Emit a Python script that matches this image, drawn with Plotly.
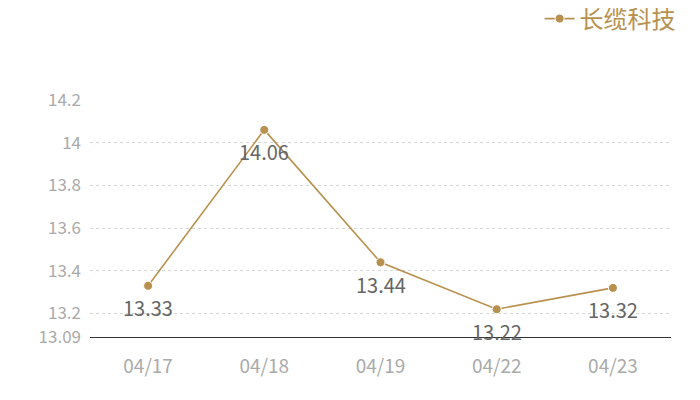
import plotly.graph_objects as go

dates = ["04/17", "04/18", "04/19", "04/22", "04/23"]
prices = [13.33, 14.06, 13.44, 13.22, 13.32]
series_name = "长缆科技"
y_ticks = [13.09, 13.2, 13.4, 13.6, 13.8, 14.0, 14.2]
y_tick_text = ["13.09", "13.2", "13.4", "13.6", "13.8", "14", "14.2"]

gold = "#B8914F"
font_family = "Noto Sans CJK SC, Noto Sans, sans-serif"

fig = go.Figure()
fig.add_trace(go.Scatter(
    x=dates, y=prices, name=series_name,
    mode="lines+markers",
    line=dict(color=gold, width=1.6),
    marker=dict(color=gold, size=9, line=dict(color="white", width=1)),
    cliponaxis=False,
))

for d, v in zip(dates, prices):
    fig.add_annotation(
        x=d, y=v, text=f"{v:.2f}", showarrow=False,
        yshift=-22, font=dict(color="#666666", size=20, family=font_family),
    )

# page body adds an 8px margin; size the figure to fit the 700x400 window
fig.update_layout(
    width=692, height=392,
    margin=dict(l=82, r=29, t=92, b=63),
    paper_bgcolor="white", plot_bgcolor="white",
    font=dict(family=font_family),
    showlegend=True,
    legend=dict(
        orientation="h", x=0.972, xanchor="right", y=0.972, yanchor="middle",
        xref="container", yref="container",
        font=dict(color=gold, size=24, family=font_family),
        bgcolor="rgba(0,0,0,0)",
    ),
    xaxis=dict(
        type="category", range=[-0.5, 4.5],
        showgrid=False, showline=True, linecolor="#333333", linewidth=1,
        ticks="", tickfont=dict(color="#aaaaaa", size=19, family=font_family),
        ticklabelstandoff=12,
    ),
    yaxis=dict(
        range=[13.09, 14.2],
        tickvals=y_ticks, ticktext=y_tick_text,
        showgrid=True, gridcolor="#d6d6d6", griddash="dot", gridwidth=1,
        zeroline=False, showline=False, ticks="",
        tickfont=dict(color="#aaaaaa", size=17, family=font_family),
        ticklabelstandoff=8,
    ),
)

fig.write_html("out.html")
